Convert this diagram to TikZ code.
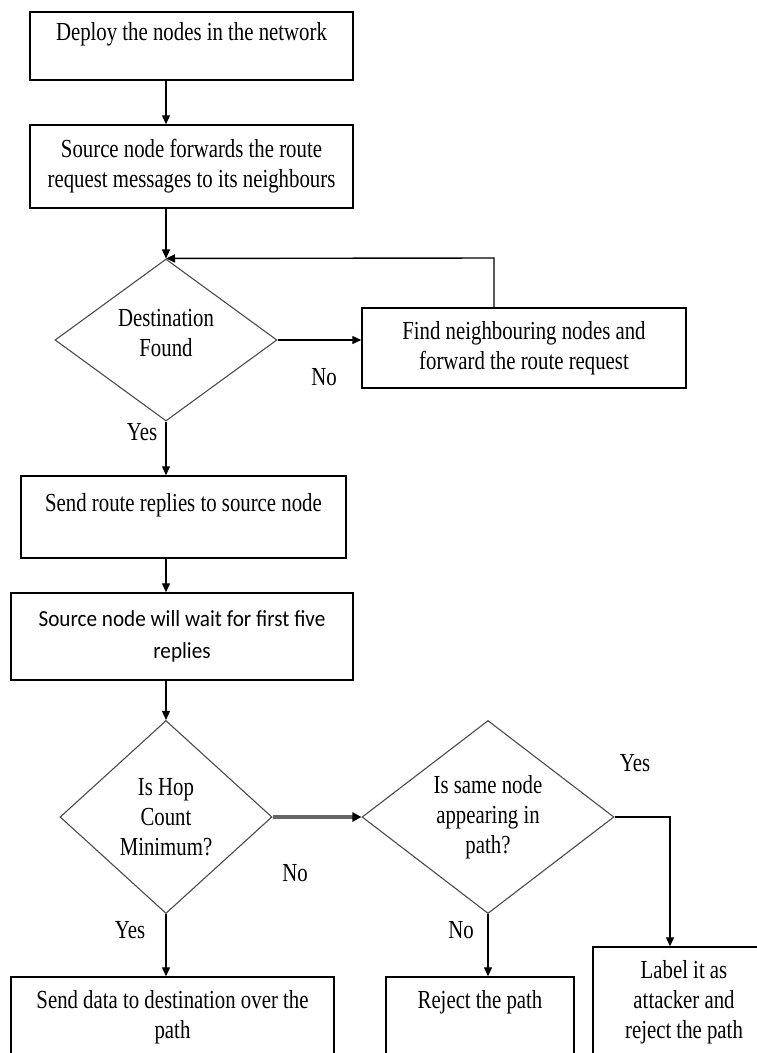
\documentclass[tikz,border=0pt]{standalone}
\usepackage{fontspec}
\setmainfont{Liberation Serif}[FakeStretch=0.8]
\newfontfamily\calib{Carlito}[FakeStretch=0.92]
\usetikzlibrary{shapes.geometric,arrows.meta}
\begin{document}
\begin{tikzpicture}[x=1pt,y=-1pt,
  every node/.style={font=\fontsize{26}{30}\selectfont},
  box/.style={draw=black,line width=1.5pt,rectangle,inner sep=0pt,align=center},
  dia/.style={draw=black!70,line width=1.1pt,diamond,inner sep=0pt,align=center},
  arr/.style={line width=1.4pt,-{Triangle[length=9pt,width=8pt]}},
  thickarr/.style={line width=3.4pt,draw=black!60,-{Triangle[length=9pt,width=9pt,fill=black,color=black]}},
  lbl/.style={inner sep=0pt}]
\useasboundingbox (0,0) rectangle (757,1053);
\clip (0,0) rectangle (757,1053);
\fill[white] (0,0) rectangle (757,1053);
% boxes
\node[box,minimum width=323pt,minimum height=68pt] (b1) at (191.5,46) {Deploy the nodes in the network\\ \mbox{}};
\node[box,minimum width=323pt,minimum height=83pt] (b2) at (191.5,166.5) {Source node forwards the route\\request messages to its neighbours};
\node[dia,minimum width=222pt,minimum height=162pt] (d1) at (166,340) {Destination\\Found\\[-16pt]\mbox{}};
\node[box,minimum width=324pt,minimum height=80pt] (b3) at (524,348) {Find neighbouring nodes and\\forward the route request};
\node[box,minimum width=325pt,minimum height=82pt] (b4) at (183.5,517) {Send route replies to source node\\ \mbox{}};
\node[box,minimum width=342pt,minimum height=87pt,font=\fontsize{23}{32}\calib] (b5) at (182,636.5) {Source node will wait for first five\\replies};
\node[dia,minimum width=212pt,minimum height=193pt] (d2) at (166,817) {Is Hop\\Count\\Minimum?};
\node[dia,minimum width=252pt,minimum height=193pt] (d3) at (488,817) {Is same node\\appearing in\\path?};
\node[box,minimum width=323pt,minimum height=113pt] (b6) at (172.5,1033.5) {Send data to destination over the\\path\\ \strut};
\node[box,minimum width=188pt,minimum height=113pt] (b7) at (480,1033.5) {Reject the path\\ \strut\\ \strut};
\node[box,minimum width=182pt,minimum height=143pt] (b8) at (684,1018.5) {Label it as\\attacker and\\reject the path\\ \strut};
% helper coordinates
\coordinate (lp) at (494,258);
\coordinate (yx) at (670,817);
% connectors
\draw[arr] (d1.north |- b1.south) -- (d1.north |- b2.north);
\draw[arr] (d1.north |- b2.south) -- (d1.north);
\draw[arr] (d1.east) -- (d1.east -| b3.west);
\draw[arr] (lp |- b3.north) -- (lp) -- (d1.north);
\draw[arr] (d1.south) -- (d1.south |- b4.north);
\draw[arr] (d1.south |- b4.south) -- (d1.south |- b5.north);
\draw[arr] (d2.north |- b5.south) -- (d2.north);
\draw[thickarr] (d2.east) -- (d3.west);
\draw[arr] (d3.east) -- (yx) -- (yx |- b8.north);
\draw[arr] (d2.south) -- (d2.south |- b6.north);
\draw[arr] (d3.south) -- (d3.south |- b7.north);
% labels
\node[lbl] (no1) at (324,377) {No};
\node[lbl] (yes1) at (142,432) {Yes};
\node[lbl] (no2) at (295,873) {No};
\node[lbl] (yes2) at (635,763) {Yes};
\node[lbl] (yes3) at (130,930) {Yes};
\node[lbl] (no3) at (461,930) {No};
\end{tikzpicture}
\end{document}
